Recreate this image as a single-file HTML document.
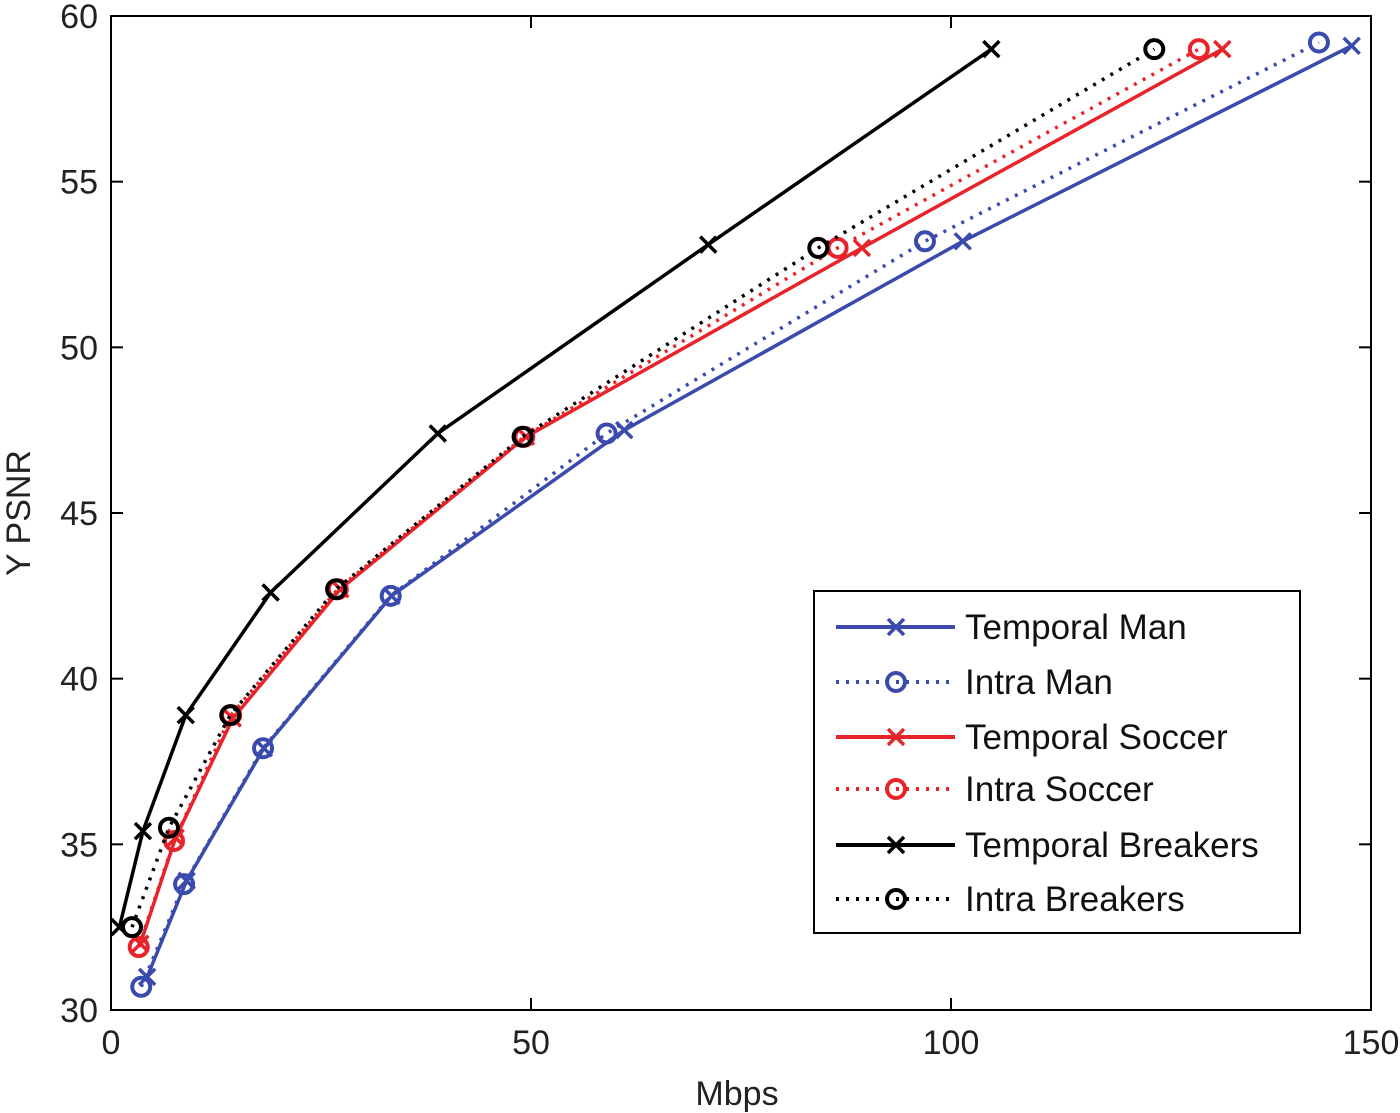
<!DOCTYPE html>
<html><head><meta charset="utf-8"><style>
html,body{margin:0;padding:0;background:#fff;}
svg{display:block;font-family:"Liberation Sans",sans-serif;}
</style></head><body>
<svg id="chart" width="1400" height="1113"></svg>
<script>
const seriesNames=["Temporal Man","Intra Man","Temporal Soccer","Intra Soccer","Temporal Breakers","Intra Breakers"];
const temporalManX=[4.3,9.0,18.2,33.4,61.1,101.4,147.7];
const temporalManY=[31.0,33.9,37.9,42.5,47.5,53.2,59.1];
const intraManX=[3.6,8.7,18.1,33.3,59.0,96.9,143.8];
const intraManY=[30.7,33.8,37.9,42.5,47.4,53.2,59.2];
const temporalSoccerX=[3.5,7.7,14.5,27.3,49.4,89.4,132.3];
const temporalSoccerY=[32.0,35.2,38.8,42.7,47.3,53.0,59.0];
const intraSoccerX=[3.3,7.5,14.3,27.0,49.2,86.5,129.5];
const intraSoccerY=[31.9,35.1,38.9,42.7,47.3,53.0,59.0];
const temporalBreakersX=[1.0,3.8,8.9,19.0,38.9,71.1,104.8];
const temporalBreakersY=[32.5,35.4,38.9,42.6,47.4,53.1,59.0];
const intraBreakersX=[2.5,6.9,14.2,26.8,49.0,84.2,124.2];
const intraBreakersY=[32.5,35.5,38.9,42.7,47.3,53.0,59.0];
const xTicks=[0,50,100,150];
const yTicks=[30,35,40,45,50,55,60];

const NS="http://www.w3.org/2000/svg";
const svg=document.getElementById('chart');
const L=111,R=1371,T=16,B=1010;
const sx=v=>L+(v-0)/150*(R-L);
const sy=v=>B-(v-30)/30*(B-T);
function mk(tag,attrs,parent){const e=document.createElementNS(NS,tag);for(const k in attrs)e.setAttribute(k,attrs[k]);(parent||svg).appendChild(e);return e;}

const frame=mk('rect',{x:L,y:T,width:R-L,height:B-T,fill:'none',stroke:'#000','stroke-width':2});



xTicks.forEach(t=>{
  const x=sx(t);
  const g=mk('g',{});
  
  
  mk('line',{x1:x,y1:B,x2:x,y2:B-12,stroke:'#000','stroke-width':2},g);
  mk('line',{x1:x,y1:T,x2:x,y2:T+12,stroke:'#000','stroke-width':2},g);
  const tx=mk('text',{x:x,y:1054,'font-size':34,'text-anchor':'middle',fill:'#222'},g);
  tx.textContent=t;
});
yTicks.forEach(t=>{
  const y=sy(t);
  const g=mk('g',{});
  
  
  mk('line',{x1:L,y1:y,x2:L+12,y2:y,stroke:'#000','stroke-width':2},g);
  mk('line',{x1:R,y1:y,x2:R-12,y2:y,stroke:'#000','stroke-width':2},g);
  const tx=mk('text',{x:98,y:y+12,'font-size':34,'text-anchor':'end',fill:'#222'},g);
  tx.textContent=t;
});
const xl=mk('text',{x:737,y:1105,'font-size':34,'text-anchor':'middle',fill:'#222'});
xl.textContent='Mbps';


const yl=mk('text',{x:0,y:0,'font-size':34,'text-anchor':'middle',fill:'#222',transform:'translate(30,513) rotate(-90)'});
yl.textContent='Y PSNR';



const styles=[
 {c:'#3a4aad',dash:null,m:'x',xs:temporalManX,ys:temporalManY},
 {c:'#3a4aad',dash:'3 7',m:'o',xs:intraManX,ys:intraManY},
 {c:'#e8232a',dash:null,m:'x',xs:temporalSoccerX,ys:temporalSoccerY},
 {c:'#e8232a',dash:'3 7',m:'o',xs:intraSoccerX,ys:intraSoccerY},
 {c:'#000',dash:null,m:'x',xs:temporalBreakersX,ys:temporalBreakersY},
 {c:'#000',dash:'3 7',m:'o',xs:intraBreakersX,ys:intraBreakersY}
];
function marker(g,type,x,y,c){
  if(type==='x'){
    mk('path',{d:`M${x-8} ${y-8}L${x+8} ${y+8}M${x-8} ${y+8}L${x+8} ${y-8}`,stroke:c,'stroke-width':3.5,fill:'none'},g);
  }else{
    mk('circle',{cx:x,cy:y,r:9,stroke:c,'stroke-width':4,fill:'none'},g);
  }
}
styles.forEach((s,i)=>{
  const g=mk('g',{});
  
  
  const pts=s.xs.map((v,j)=>sx(v)+','+sy(s.ys[j])).join(' ');
  const pl=mk('polyline',{points:pts,fill:'none',stroke:s.c,'stroke-width':3.5});
  g.appendChild(pl);
  if(s.dash)pl.setAttribute('stroke-dasharray',s.dash);
  s.xs.forEach((v,j)=>marker(g,s.m,sx(v),sy(s.ys[j]),s.c));
});

const lg=mk('g',{});


mk('rect',{x:814,y:591,width:486,height:342,fill:'#fff',stroke:'#000','stroke-width':2},lg);
const ly=[627,682,737,789,845,899];
styles.forEach((s,i)=>{
  const e=mk('g',{},lg);
  
  
  const ln=mk('line',{x1:836,y1:ly[i],x2:955,y2:ly[i],stroke:s.c,'stroke-width':4},e);
  if(s.dash)ln.setAttribute('stroke-dasharray',s.dash);
  marker(e,s.m,896,ly[i],s.c);
  const t=mk('text',{x:965,y:ly[i]+12,'font-size':35,fill:'#111'},e);
  t.textContent=seriesNames[i];
});
</script>
</body></html>
